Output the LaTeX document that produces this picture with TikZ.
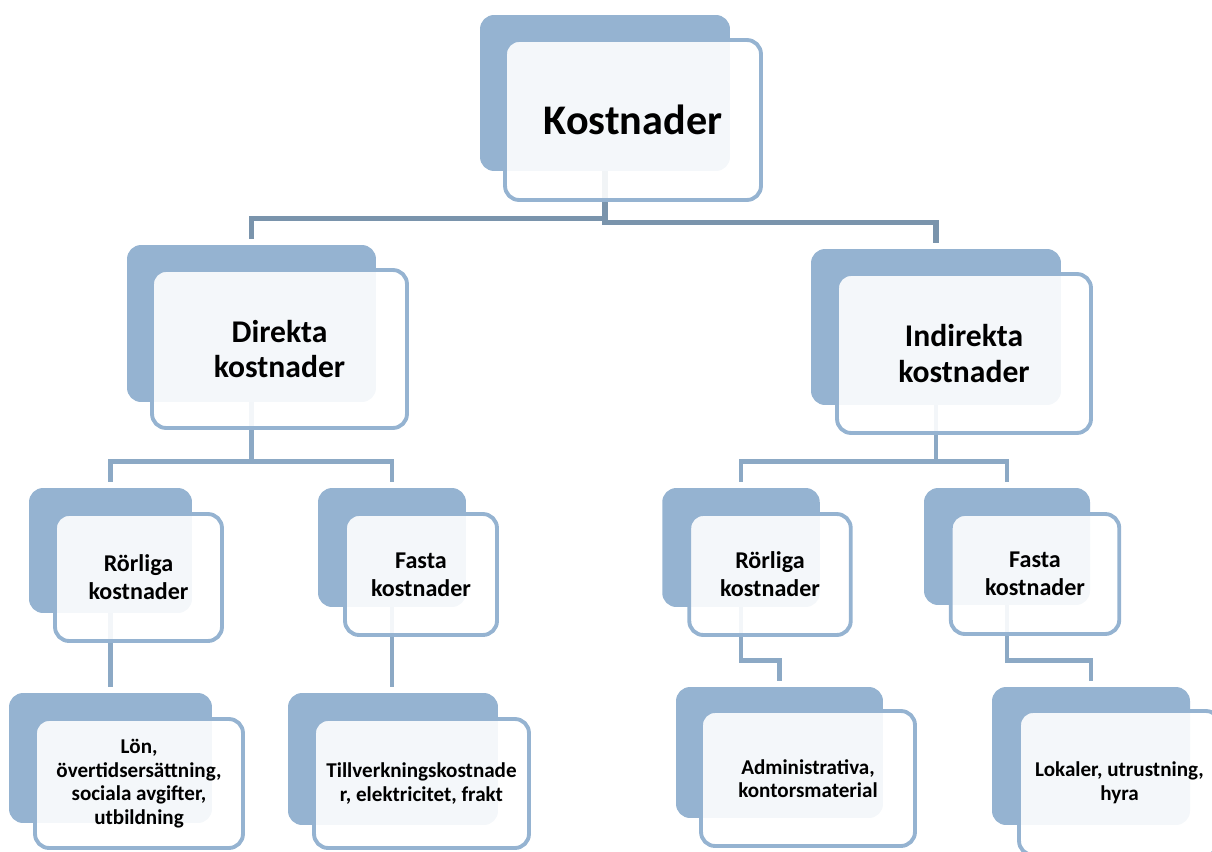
\documentclass[tikz,border=0pt]{standalone}
\usepackage{fontspec}
\setmainfont{Carlito}
\definecolor{backblue}{HTML}{95B3D1}
\definecolor{linkdark}{HTML}{7A94AC}
\definecolor{linklight}{HTML}{8CA9C5}

\begin{document}
\begin{tikzpicture}[x=0.02cm, y=-0.02cm,
  backbox/.style={rectangle, rounded corners=8pt, fill=backblue, inner sep=0pt},
  frontbox/.style={rectangle, rounded corners=8pt, draw=backblue, line width=2.2pt, fill=white, fill opacity=0.9, text opacity=1, align=center, inner sep=0pt},
  toplink/.style={draw=linkdark, line width=3.2pt},
  link/.style={draw=linklight, line width=2.8pt},
  lvone/.style={font=\bfseries\fontsize{24}{28}\selectfont},
  lvtwo/.style={font=\bfseries\fontsize{18}{20}\selectfont},
  lvthree/.style={font=\bfseries\fontsize{13.7}{16}\selectfont},
  lvfour/.style={font=\bfseries\fontsize{12}{13.4}\selectfont}]
\useasboundingbox (0,0) rectangle (1212,851);
\clip (0,0) rectangle (1212,851);

\node (kostback) [backbox, minimum width=5cm, minimum height=3.12cm] at (605,93) {};
\node (dirback) [backbox, minimum width=4.98cm, minimum height=3.14cm] at (251.5,323.5) {};
\node (indback) [backbox, minimum width=5cm, minimum height=3.12cm] at (936,327) {};
\node (drlback) [backbox, minimum width=3.26cm, minimum height=2.5cm] at (110.5,550.5) {};
\node (dfaback) [backbox, minimum width=2.96cm, minimum height=2.38cm] at (392,547.5) {};
\node (irlback) [backbox, minimum width=3.15cm, minimum height=2.38cm] at (741,547.5) {};
\node (ifaback) [backbox, minimum width=3.32cm, minimum height=2.34cm] at (1007,546.5) {};
\node (lonback) [backbox, minimum width=4.06cm, minimum height=2.6cm] at (110.5,758) {};
\node (tillback) [backbox, minimum width=4.2cm, minimum height=2.64cm] at (393,759) {};
\node (admback) [backbox, minimum width=4.14cm, minimum height=2.62cm] at (779.5,752.5) {};
\node (lokback) [backbox, minimum width=3.96cm, minimum height=2.76cm] at (1091,756) {};

\draw[toplink] (kostback.south) -- ++(0,47) -| ([yshift=3pt]dirback.north);
\draw[toplink] (kostback.south) -- ++(0,51) -| ([yshift=3pt]indback.north);
\draw[link] (dirback.south) -- ++(0,59) -| ([yshift=3pt]drlback.north);
\draw[link] (dirback.south) -- ++(0,59) -| ([yshift=3pt]dfaback.north);
\draw[link] (indback.south) -- ++(0,56) -| ([yshift=3pt]irlback.north);
\draw[link] (indback.south) -- ++(0,56) -| ([yshift=3pt]ifaback.north);
\draw[link] (drlback.south) -- ([yshift=3pt]drlback.south |- lonback.north);
\draw[link] (dfaback.south) -- ([yshift=3pt]dfaback.south |- tillback.north);
\draw[link] (irlback.south) -- ++(0,53) -| ([yshift=3pt]admback.north);
\draw[link] (ifaback.south) -- ++(0,55) -| ([yshift=3pt]lokback.north);

\node (kost) [frontbox, lvone, minimum width=5.12cm, minimum height=3.2cm] at (633,120) {Kostnader};
\node (dir) [frontbox, lvtwo, minimum width=5.1cm, minimum height=3.16cm] at (279.5,349) {Direkta\\kostnader};
\node (ind) [frontbox, lvtwo, minimum width=5.08cm, minimum height=3.18cm] at (964,353.5) {Indirekta\\kostnader};
\node (drl) [frontbox, lvthree, minimum width=3.34cm, minimum height=2.54cm] at (138.5,577.5) {Rörliga\\kostnader};
\node (dfa) [frontbox, lvthree, minimum width=3.04cm, minimum height=2.42cm] at (421,574.5) {Fasta\\kostnader};
\node (irl) [frontbox, lvthree, minimum width=3.23cm, minimum height=2.42cm] at (770,574.5) {Rörliga\\kostnader};
\node (ifa) [frontbox, lvthree, minimum width=3.37cm, minimum height=2.4cm] at (1035,574) {Fasta\\kostnader};
\node (lon) [frontbox, lvfour, minimum width=4.16cm, minimum height=2.58cm] at (139,783.5) {Lön,\\övertidsersättning,\\sociala avgifter,\\utbildning};
\node (till) [frontbox, lvfour, minimum width=4.3cm, minimum height=2.58cm] at (421.5,783.5) {Tillverkningskostnade\\r, elektricitet, frakt};
\node (adm) [frontbox, lvfour, minimum width=4.28cm, minimum height=2.7cm] at (808,778.5) {Administrativa,\\kontorsmaterial};
\node (lok) [frontbox, lvfour, minimum width=4.02cm, minimum height=2.88cm] at (1119.5,783) {Lokaler, utrustning,\\hyra};
\end{tikzpicture}
\end{document}
